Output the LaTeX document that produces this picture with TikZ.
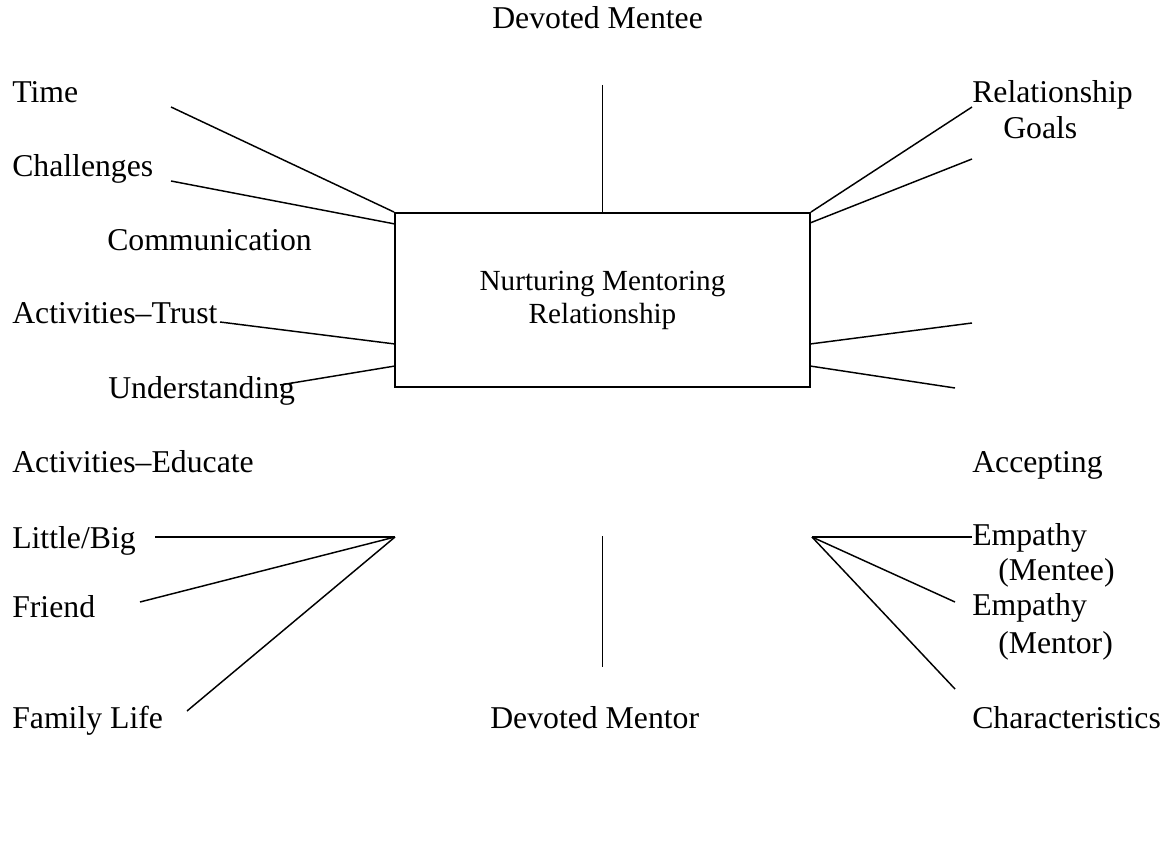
\documentclass[tikz,border=0pt]{standalone}
\usepackage{fontspec}
\setmainfont{Liberation Serif}
\usepackage{tikz}

\begin{document}
\begin{tikzpicture}[x=0.75pt, y=-0.75pt,
                    lbl/.style={anchor=base west, inner sep=0pt,
                                font=\fontsize{23.8}{27}\selectfont},
                    spoke/.style={line width=1.1pt}]

\useasboundingbox (0,0) rectangle (1169,848);

%central box
\node [draw, line width=1.4pt, minimum width=311.25pt, minimum height=130.5pt,
       align=center, font=\fontsize{21.9}{24.75}\selectfont]
      (nmr) at (602.5,300) {Nurturing Mentoring\\Relationship};

%top and bottom
\node [lbl] (mentee) at (492,29) {Devoted Mentee};
\node [lbl] (mentor) at (490,728) {Devoted Mentor};

%left side
\node [lbl] (time)   at (12,103)  {Time};
\node [lbl] (chall)  at (12,177)  {Challenges};
\node [lbl] (comm)   at (107,251) {Communication};
\node [lbl] (trust)  at (12,323)  {Activities--Trust};
\node [lbl] (under)  at (108,398) {Understanding};
\node [lbl] (educ)   at (12,472)  {Activities--Educate};
\node [lbl] (litbig) at (12,548)  {Little/Big};
\node [lbl] (friend) at (12,617)  {Friend};
\node [lbl] (family) at (12,728)  {Family Life};

%right side
\node [lbl] (relgoal)  at (972,103)  {Relationship};
\node [lbl] (goals)    at (1003,139) {Goals};
\node [lbl] (accept)   at (972,472)  {Accepting};
\node [lbl] (empone)   at (972,545)  {Empathy};
\node [lbl] (empmtee)  at (998,580)  {(Mentee)};
\node [lbl] (emptwo)   at (972,615)  {Empathy};
\node [lbl] (empmtor)  at (998,653)  {(Mentor)};
\node [lbl] (charact)  at (972,728)  {Characteristics};

%free ends of the spokes
\coordinate (topend) at (602.5,85);
\coordinate (botin)  at (602.5,536);
\coordinate (botend) at (602.5,667);
\coordinate (hubL)   at (395,537);
\coordinate (hubR)   at (812,537);

\coordinate (timeend)  at (171,107);
\coordinate (challend) at (171,181);
\coordinate (challin)  at (395,224);
\coordinate (trustend) at (220,322);
\coordinate (trustin)  at (395,344);
\coordinate (underend) at (280,385);
\coordinate (underin)  at (395,366);
\coordinate (litend)   at (155,537);
\coordinate (friendend) at (140,602);
\coordinate (famend)   at (187,711);

\coordinate (relend)   at (972,107);
\coordinate (goalin)   at (810,223);
\coordinate (goalend)  at (972,159);
\coordinate (midin)    at (810,344);
\coordinate (midend)   at (972,323);
\coordinate (lowin)    at (810,366);
\coordinate (lowend)   at (955,388);
\coordinate (empend)   at (972,537);
\coordinate (mtorend)  at (955,602);
\coordinate (charend)  at (955,689);

%vertical spokes
\draw [spoke] (topend) -- (nmr.north);
\draw [spoke] (botin) -- (botend);

%left spokes
\draw [spoke] (timeend) -- (nmr.north west);
\draw [spoke] (challend) -- (challin);
\draw [spoke] (trustend) -- (trustin);
\draw [spoke] (underend) -- (underin);
\draw [spoke] (litend) -- (hubL);
\draw [spoke] (friendend) -- (hubL);
\draw [spoke] (famend) -- (hubL);

%right spokes
\draw [spoke] (nmr.north east) -- (relend);
\draw [spoke] (goalin) -- (goalend);
\draw [spoke] (midin) -- (midend);
\draw [spoke] (lowin) -- (lowend);
\draw [spoke] (hubR) -- (empend);
\draw [spoke] (hubR) -- (mtorend);
\draw [spoke] (hubR) -- (charend);

\end{tikzpicture}
\end{document}
